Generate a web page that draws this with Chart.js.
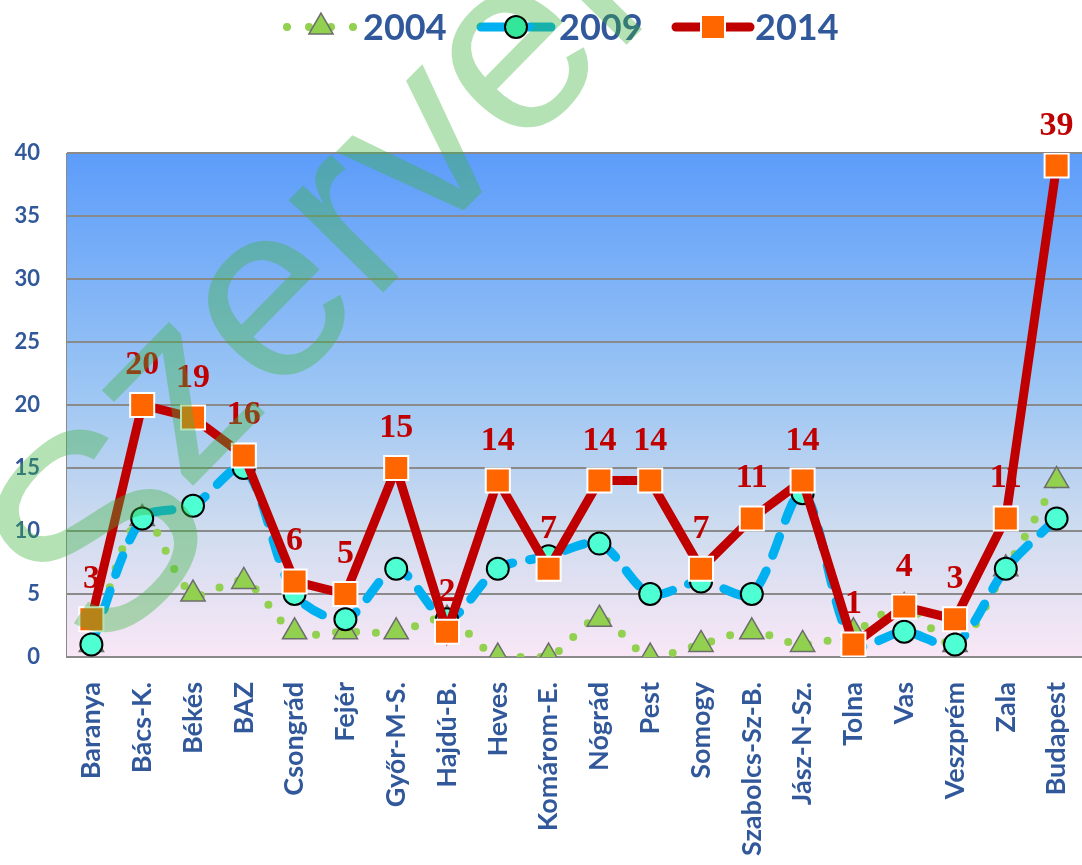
<!DOCTYPE html>
<html><head><meta charset="utf-8">
<script src="https://cdn.jsdelivr.net/npm/chart.js@4/dist/chart.umd.min.js"></script>
<style>html,body{margin:0;padding:0;background:#fff}#wrap{width:1082px;height:865px;position:relative}</style>
</head><body><div id="wrap"><canvas id="c"></canvas></div>
<script>
const categories = ['Baranya','Bács-K.','Békés','BAZ','Csongrád','Fejér','Győr-M-S.','Hajdú-B.','Heves','Komárom-E.','Nógrád','Pest','Somogy','Szabolcs-Sz-B.','Jász-N-Sz.','Tolna','Vas','Veszprém','Zala','Budapest'];
const seriesNames = ['2004','2009','2014'];
const values2004 = [1,11,5,6,2,2,2,3,0,0,3,0,1,2,1,2,4,1,7,14];
const values2009 = [1,11,12,15,5,3,7,3,7,8,9,5,6,5,13,1,2,1,7,11];
const values2014 = [3,20,19,16,6,5,15,2,14,7,14,14,7,11,14,1,4,3,11,39];
const yTicks = [0,5,10,15,20,25,30,35,40];
const watermarkHead = 'S';
const watermarkTail = 'zerver';

const TXT = '#31589a';
const C2004 = '#92d050', C2009 = '#00b0f0', C2014 = '#c00000';

const bgPlugin = {
  id: 'bg',
  beforeDraw(chart) {
    const {ctx, chartArea: a} = chart;
    const g = ctx.createLinearGradient(0, a.top, 0, a.bottom);
    g.addColorStop(0, '#5c9cfa');
    g.addColorStop(0.45, '#99c4f4');
    g.addColorStop(0.75, '#cfdcef');
    g.addColorStop(1, '#f9e7f6');
    ctx.save(); ctx.fillStyle = g; ctx.fillRect(a.left, a.top, a.right - a.left, a.bottom - a.top); ctx.restore();
  }
};

const labelPlugin = {
  id: 'lbl',
  afterDatasetsDraw(chart) {
    const ctx = chart.ctx;
    const idx = chart.data.datasets.findIndex(d => d.label === '2014');
    const meta = chart.getDatasetMeta(idx);
    ctx.save();
    ctx.font = 'bold 34px "Liberation Serif", "Times New Roman", serif';
    ctx.fillStyle = C2014; ctx.textAlign = 'center'; ctx.textBaseline = 'alphabetic';
    meta.data.forEach((p, i) => { ctx.fillText(String(values2014[i]), p.x, p.y - 31); });
    ctx.restore();
  }
};

function drawMarker(ctx, type, x, y) {
  ctx.save();
  if (type === 'triangle') {
    const r = 14;
    ctx.beginPath();
    ctx.moveTo(x, y - r);
    ctx.lineTo(x + r * Math.sin(2*Math.PI/3), y - r * Math.cos(2*Math.PI/3));
    ctx.lineTo(x + r * Math.sin(4*Math.PI/3), y - r * Math.cos(4*Math.PI/3));
    ctx.closePath();
    ctx.fillStyle = C2004; ctx.fill(); ctx.lineWidth = 1.5; ctx.strokeStyle = '#6d6d6d'; ctx.stroke();
  } else if (type === 'circle') {
    ctx.beginPath(); ctx.arc(x, y, 11, 0, Math.PI*2);
    ctx.fillStyle = '#33e69a'; ctx.fill(); ctx.lineWidth = 2; ctx.strokeStyle = '#000'; ctx.stroke();
  } else {
    ctx.fillStyle = '#ff6600'; ctx.fillRect(x - 12, y - 12, 24, 24);
    ctx.lineWidth = 2; ctx.strokeStyle = '#fff'; ctx.strokeRect(x - 12, y - 12, 24, 24);
  }
  ctx.restore();
}

const legendPlugin = {
  id: 'customLegend',
  afterDraw(chart) {
    const ctx = chart.ctx;
    const y = 27;
    const items = [
      {name: seriesNames[0], x0: 287, x1: 356, mx: 321, type: 'triangle', color: C2004, dash: [0, 22], w: 8, tx: 363},
      {name: seriesNames[1], x0: 481, x1: 551, mx: 516, type: 'circle', color: C2009, dash: [], w: 9, tx: 559},
      {name: seriesNames[2], x0: 676, x1: 750, mx: 713, type: 'rect', color: C2014, dash: [], w: 9, tx: 755}
    ];
    ctx.save();
    items.forEach(it => {
      ctx.save();
      ctx.beginPath(); ctx.setLineDash(it.dash); ctx.lineCap = 'round';
      ctx.lineWidth = it.w; ctx.strokeStyle = it.color;
      ctx.moveTo(it.x0, y); ctx.lineTo(it.x1, y); ctx.stroke();
      ctx.restore();
      drawMarker(ctx, it.type, it.mx, y);
      ctx.font = 'bold 36px Lato, "Open Sans", sans-serif';
      ctx.fillStyle = TXT; ctx.textAlign = 'left'; ctx.textBaseline = 'middle';
      ctx.fillText(it.name, it.tx, y + 1);
    });
    ctx.restore();
  }
};

const watermarkPlugin = {
  id: 'wm',
  afterDraw(chart) {
    const ctx = chart.ctx;
    const ang = -45.5 * Math.PI / 180;
    ctx.save();
    ctx.fillStyle = 'rgba(60,180,60,0.38)';
    ctx.textBaseline = 'alphabetic';
    ctx.save();
    ctx.font = '280px "Liberation Sans", Arial, sans-serif';
    ctx.translate(92, 528); ctx.rotate(ang);
    ctx.textAlign = 'center';
    ctx.fillText(watermarkHead, 0, 100);
    ctx.restore();
    ctx.save();
    ctx.font = '250px "Liberation Sans", Arial, sans-serif';
    ctx.translate(186, 493); ctx.rotate(ang);
    ctx.textAlign = 'left';
    ctx.fillText(watermarkTail, 0, 0);
    ctx.restore();
    ctx.restore();
  }
};

new Chart(document.getElementById('c'), {
  type: 'line',
  data: {
    labels: categories,
    datasets: [
      {label: seriesNames[2], data: values2014, order: 0, borderColor: C2014, borderWidth: 9, tension: 0,
       pointStyle: 'rect', pointRadius: 17, pointBackgroundColor: '#ff6600', pointBorderColor: '#ffffff', pointBorderWidth: 2},
      {label: seriesNames[1], data: values2009, order: 1, borderColor: C2009, borderWidth: 9, tension: 0.3,
       borderDash: [20, 17], borderCapStyle: 'round',
       pointStyle: 'circle', pointRadius: 11, pointBackgroundColor: '#4dffd2', pointBorderColor: '#000000', pointBorderWidth: 2},
      {label: seriesNames[0], data: values2004, order: 2, borderColor: C2004, borderWidth: 8, tension: 0.35,
       borderDash: [0, 20], borderCapStyle: 'round',
       pointStyle: 'triangle', pointRadius: 14, pointBackgroundColor: '#92d050', pointBorderColor: '#6d6d6d', pointBorderWidth: 1.5}
    ]
  },
  options: {
    responsive: true, maintainAspectRatio: false, animation: false, events: [],
    layout: {autoPadding: false, padding: {top: 153, right: 0, left: 0, bottom: 0}},
    plugins: {legend: {display: false}, tooltip: {enabled: false}},
    scales: {
      x: {
        offset: true,
        grid: {display: false},
        border: {display: false},
        ticks: {color: TXT, font: {family: 'Lato', weight: 'bold', size: 27}, minRotation: 90, maxRotation: 90, autoSkip: false, padding: 17},
        afterFit(s) { s.height = 208; s.paddingLeft = 0; s.paddingRight = 0; }
      },
      y: {
        min: 0, max: 40,
        afterBuildTicks(s) { s.ticks = yTicks.map(v => ({value: v})); },
        grid: {color: '#8a8a8a', lineWidth: 2, drawTicks: false},
        border: {display: true, color: '#8a8a8a', width: 1},
        ticks: {color: TXT, font: {family: 'Lato', weight: 'bold', size: 22}, padding: 26},
        afterFit(s) { s.width = 66; }
      }
    }
  },
  plugins: [bgPlugin, labelPlugin, legendPlugin, watermarkPlugin]
});
</script>
</body></html>
